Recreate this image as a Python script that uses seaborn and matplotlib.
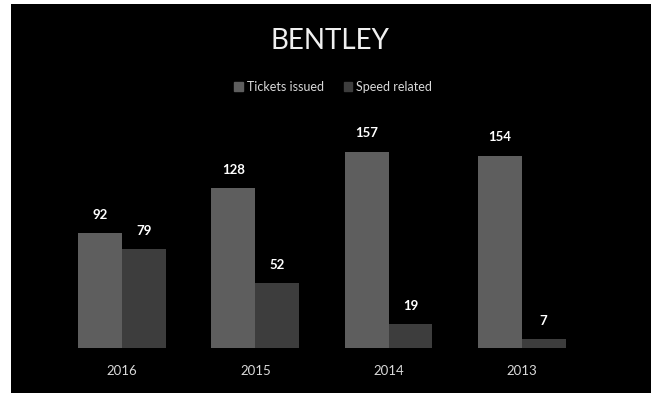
import matplotlib
matplotlib.use("Agg")
import matplotlib.pyplot as plt
from matplotlib.patches import Rectangle
import seaborn as sns
import pandas as pd

years = ["2016", "2015", "2014", "2013"]
tickets_issued = [92, 128, 157, 154]
speed_related = [79, 52, 19, 7]
series_names = ["Tickets issued", "Speed related"]

df = pd.DataFrame({
    "year": years * 2,
    "count": tickets_issued + speed_related,
    "series": [series_names[0]] * len(years) + [series_names[1]] * len(years),
})

sns.set_theme(style="dark")
plt.rcParams["font.family"] = ["Lato", "DejaVu Sans"]

fig = plt.figure(figsize=(6.53, 3.93), dpi=100)
fig.patch.set_facecolor("white")
# black slide panel behind the chart
fig.patches.append(Rectangle((11 / 653, 0), 640 / 653, 389 / 393,
                             transform=fig.transFigure, facecolor="black",
                             edgecolor="none", zorder=-1))

ax = fig.add_axes([0.085, 0.1145, 0.816, 0.604])
ax.set_facecolor("none")

sns.barplot(data=df, x="year", y="count", hue="series", order=years,
            hue_order=series_names, palette=["#5e5e5e", "#3d3d3d"],
            width=0.66, gap=0, saturation=1, linewidth=0, ax=ax,
            legend=False)

for cont in ax.containers:
    ax.bar_label(cont, padding=9, color="white", fontsize=9.5,
                 fontweight="bold")

ax.set_ylim(0, 190)
ax.set_xlim(-0.5, len(years) - 0.5)
ax.set_xlabel("")
ax.set_ylabel("")
ax.set_yticks([])
ax.tick_params(axis="x", colors="#d9d9d9", labelsize=9.5, length=0, pad=12)
for s in ax.spines.values():
    s.set_visible(False)
ax.grid(False)

fig.text(0.505, 0.895, "BENTLEY", ha="center", va="center",
         color="#f0f0f0", fontsize=20, fontweight="normal")

handles = [plt.Rectangle((0, 0), 1, 1, color=c) for c in ["#5e5e5e", "#3d3d3d"]]
leg = fig.legend(handles, series_names, loc="center", ncol=2,
                 bbox_to_anchor=(0.51, 0.778), frameon=False,
                 handlelength=0.7, handleheight=0.7, handletextpad=0.3,
                 columnspacing=1.6, fontsize=9)
for t in leg.get_texts():
    t.set_color("#d9d9d9")

fig.savefig("out.png", dpi=100)
